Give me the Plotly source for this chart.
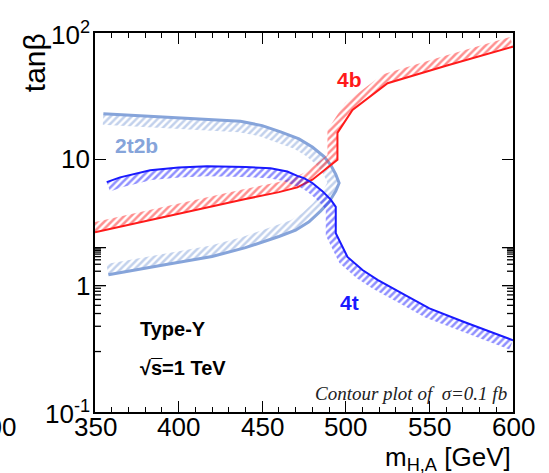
import numpy as np
import plotly.graph_objects as go

# --- contour lines of sigma = 0.1 fb in the (m_H,A, tan beta) plane ---
m_4b = [350, 380, 410, 440, 460, 471, 480, 495, 495, 504, 525, 560, 600]
tb_4b = [2.65, 3.25, 3.95, 4.85, 5.5, 6.0, 6.9, 9.9, 16.2, 24.6, 40.0, 55.0, 78.0]

m_4t = [357, 365, 383, 400, 417, 440, 455, 465, 471, 475, 480, 486, 491, 494, 494,
        501, 510, 519, 535, 550, 570, 585, 600]
tb_4t = [6.6, 7.2, 8.2, 8.6, 8.8, 8.7, 8.5, 8.0, 7.4, 7.1, 6.5, 5.6, 4.8, 4.2, 2.6,
         1.69, 1.33, 1.11, 0.85, 0.66, 0.52, 0.44, 0.37]

m_2t2b = [355, 380, 410, 437, 450, 461, 472, 480, 487, 491, 494, 496, 494, 490, 485,
          478, 470, 460, 440, 420, 390, 358]
tb_2t2b = [22.9, 22.0, 21.0, 20.0, 18.5, 16.5, 14.5, 12.5, 10.5, 9.0, 7.6, 6.5, 5.6,
           4.6, 3.9, 3.2, 2.75, 2.45, 2.0, 1.7, 1.45, 1.22]

# tick labels
x_tickvals = [350, 400, 450, 500, 550, 600]
x_ticktext = ["350", "400", "450", "500", "550", "600"]
y_tickvals = [0.1, 1, 10, 100]
y_ticktext = ["10<sup>-1</sup>", "1", "10", "10<sup>2</sup>"]
y_minorvals = [d * 10.0 ** e for e in (-1, 0, 1) for d in range(2, 10)]

X_RANGE = (350, 600)
Y_RANGE = (-1, 2)          # log10(tan beta)
W, H = 549, 473
ML, MR, MT, MB = 95, 36, 33, 61
PX_X = (W - ML - MR) / (X_RANGE[1] - X_RANGE[0])
PX_Y = (H - MT - MB) / (Y_RANGE[1] - Y_RANGE[0])

FONT = "Liberation Sans, Arial, Helvetica, sans-serif"


def hatch_band(xs, ys, width_px, side):
    """Polygon of a band of given pixel width along a curve; side=+1 left, -1 right."""
    X = (np.asarray(xs, float) - X_RANGE[0]) * PX_X
    Y = np.log10(np.asarray(ys, float)) * PX_Y
    P = np.column_stack([X, Y])
    d = np.diff(P, axis=0)
    d /= np.linalg.norm(d, axis=1)[:, None]
    seg_n = np.column_stack([-d[:, 1], d[:, 0]]) * side
    n = np.zeros_like(P)
    n[0] = seg_n[0]
    n[-1] = seg_n[-1]
    for i in range(1, len(P) - 1):
        m = seg_n[i - 1] + seg_n[i]
        m /= np.linalg.norm(m)
        c = max(np.dot(m, seg_n[i]), 0.5)
        n[i] = m / c
    Q = P + width_px * n
    qx = X_RANGE[0] + Q[:, 0] / PX_X
    qy = 10 ** (Q[:, 1] / PX_Y)
    bx = list(xs) + list(qx[::-1])
    by = list(ys) + list(qy[::-1])
    return bx, by


curves = [
    (m_2t2b, tb_2t2b, "#86a4da", "#86a4da", 11, -1, 3.0),
    (m_4b, tb_4b, "#ff1a1a", "#ff2020", 10, +1, 2.0),
    (m_4t, tb_4t, "#1a1aff", "#2020ff", 10, -1, 2.0),
]

fig = go.Figure()
for xs, ys, lc, hc, wpx, side, lw in curves:
    bx, by = hatch_band(xs, ys, wpx, side)
    fig.add_trace(go.Scatter(
        x=bx, y=by, mode="lines", fill="toself",
        line=dict(width=0, color="rgba(0,0,0,0)"),
        fillcolor="rgba(0,0,0,0)",
        fillpattern=dict(shape="/", fgcolor=hc, bgcolor="rgba(0,0,0,0)",
                         size=5, solidity=0.5),
        hoverinfo="skip", showlegend=False))
    fig.add_trace(go.Scatter(
        x=xs, y=ys, mode="lines", line=dict(color=lc, width=lw),
        showlegend=False))

axis_common = dict(
    showline=True, linecolor="black", linewidth=1.5, mirror="ticks",
    ticks="inside", ticklen=11, tickwidth=1.3, tickcolor="black",
    showgrid=False, zeroline=False, showticklabels=False,
)

fig.update_xaxes(range=list(X_RANGE), tickmode="array", tickvals=x_tickvals,
                 minor=dict(ticks="inside", ticklen=5, dtick=10, tickwidth=1.3,
                            tickcolor="black", showgrid=False),
                 **axis_common)
fig.update_yaxes(type="log", range=list(Y_RANGE), tickmode="array",
                 tickvals=y_tickvals, **axis_common)

# inward tick marks on the left and right edges of the log axis
tick_line = dict(color="black", width=1.3)
for vals, length in ((y_tickvals, 11), (y_minorvals, 6)):
    for v in vals:
        yv = np.log10(v)
        fig.add_shape(type="line", xref="paper", yref="y", xsizemode="pixel",
                      xanchor=0, x0=0, x1=length, y0=yv, y1=yv,
                      line=tick_line, layer="above")
        fig.add_shape(type="line", xref="paper", yref="y", xsizemode="pixel",
                      xanchor=1, x0=-length, x1=0, y0=yv, y1=yv,
                      line=tick_line, layer="above")

tick_font = dict(family=FONT, size=26, color="black")
for v, t in zip(x_tickvals, x_ticktext):
    fig.add_annotation(xref="x", yref="paper", x=v, y=0, xanchor="center",
                       yanchor="top", yshift=2, showarrow=False, text=t,
                       font=tick_font)
for v, t in zip(y_tickvals, y_ticktext):
    fig.add_annotation(xref="paper", yref="y", x=0, y=np.log10(v), xanchor="right",
                       yanchor="middle", xshift=-3, showarrow=False, text=t,
                       font=tick_font)

ann = [
    dict(text="<b>4b</b>", x=502, y=np.log10(42.5), font=dict(size=21, color="#ff1a1a")),
    dict(text="<b>2t2b</b>", x=375, y=np.log10(12.8), font=dict(size=21, color="#86a4da")),
    dict(text="<b>4t</b>", x=502.5, y=np.log10(0.73), font=dict(size=21, color="#1a1aff")),
    dict(text="<b>Type-Y</b>", x=375.5, y=np.log10(0.45), xanchor="left",
         font=dict(size=20, color="black")),
    dict(text="<b>√s\u0305=1 TeV</b>",
         x=375.5, y=np.log10(0.225), xanchor="left", font=dict(size=20, color="black")),
]
for a in ann:
    a.setdefault("xanchor", "center")
    fig.add_annotation(xref="x", yref="y", showarrow=False, yanchor="middle",
                       font_family=FONT, **a)

fig.add_annotation(xref="paper", yref="paper", x=0.99, y=0.05, xanchor="right",
                   yanchor="middle", showarrow=False,
                   text="<i>Contour plot of  σ=0.1 fb</i>",
                   font=dict(family="Liberation Serif, Times New Roman, serif",
                             size=19, color="#222222"))
fig.add_annotation(xref="paper", yref="paper", x=-0.146, y=0.923, showarrow=False,
                   xanchor="center", yanchor="middle",
                   textangle=-90, text="tanβ",
                   font=dict(family=FONT, size=30, color="black"))
fig.add_annotation(xref="paper", yref="paper", x=1.0, y=-0.124, xanchor="right",
                   yanchor="middle", showarrow=False,
                   text="m<sub>H,A</sub> [GeV]",
                   font=dict(family=FONT, size=26, color="black"))
fig.add_annotation(xref="paper", yref="paper", x=-0.184, y=0, xanchor="right",
                   yanchor="top", yshift=2, showarrow=False, text="600",
                   font=tick_font)

fig.update_layout(
    width=W, height=H,
    margin=dict(l=ML, r=MR, t=MT, b=MB, pad=0),
    paper_bgcolor="white", plot_bgcolor="white",
    showlegend=False,
)

fig.write_html("out.html")
